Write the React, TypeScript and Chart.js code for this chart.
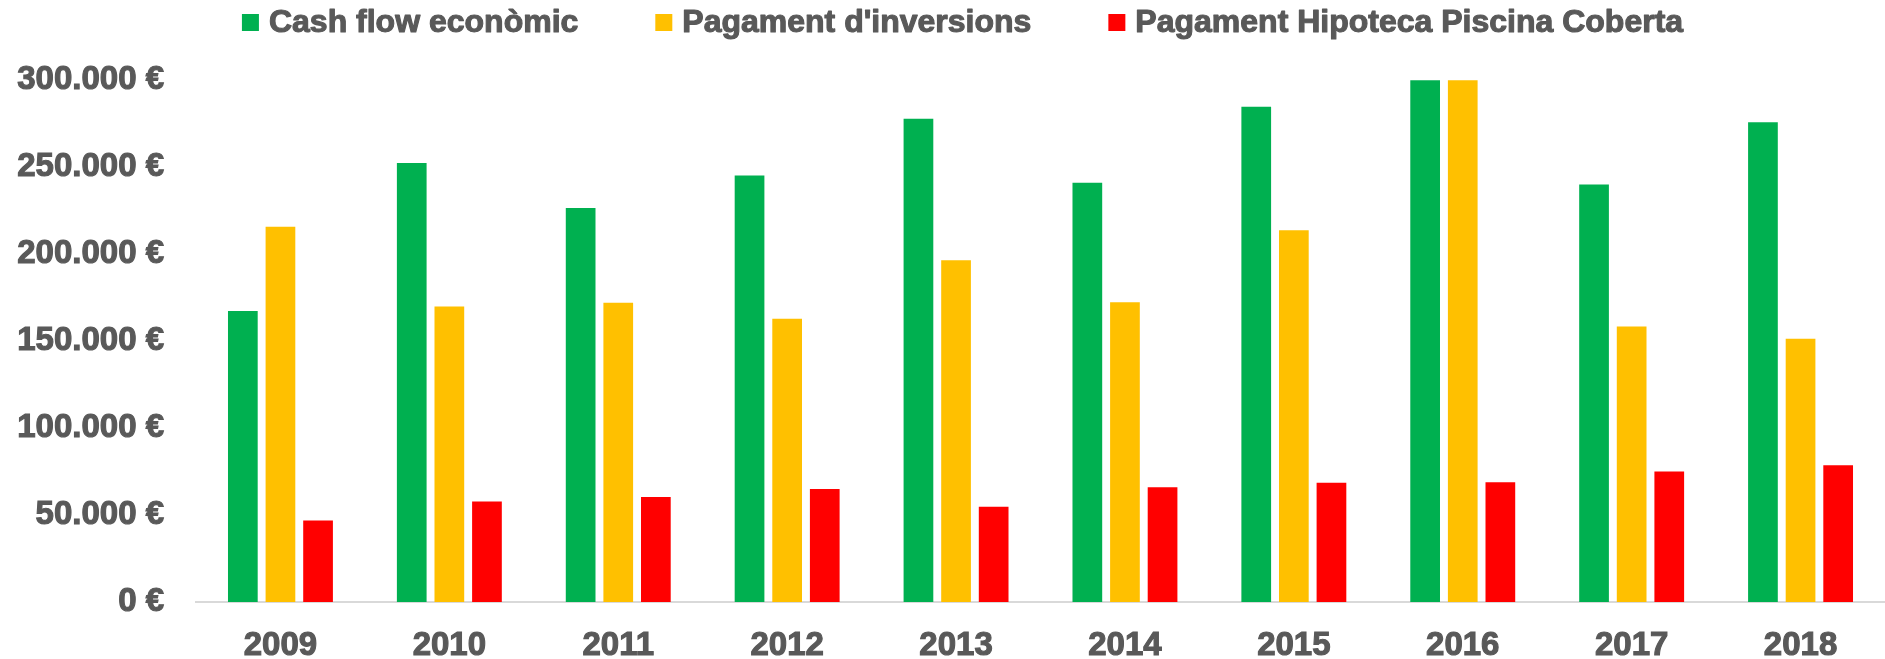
import React, { useEffect, useRef } from "react";
import { Chart, registerables } from "chart.js";

Chart.register(...registerables);

// ---- Data ----
const years = ["2009", "2010", "2011", "2012", "2013", "2014", "2015", "2016", "2017", "2018"];
const cashFlow = [167300, 252300, 226500, 245100, 277700, 241000, 284600, 299800, 240000, 275700];
const inversions = [215600, 169800, 172000, 162800, 196400, 172200, 213600, 299800, 158300, 151300];
const hipoteca = [46900, 57800, 60400, 64900, 54700, 65900, 68600, 68800, 75000, 78600];
const seriesLabels = ["Cash flow econòmic", "Pagament d'inversions", "Pagament Hipoteca Piscina Coberta"];
const seriesColors = ["#00B050", "#FFC000", "#FF0000"];
const yMax = 300000;
const yStep = 50000;

const TEXT_COLOR = "#595959";
const FONT_FAMILY = '"Liberation Sans", Arial, Helvetica, sans-serif';

function formatEuro(v: number): string {
  const s = Math.round(v).toString().replace(/\B(?=(\d{3})+(?!\d))/g, ".");
  return s + " €";
}

const topLegendPlugin = {
  id: "topLegend",
  afterDraw(chart: any) {
    const ctx = chart.ctx as CanvasRenderingContext2D;
    ctx.save();
    ctx.font = `bold 32px ${FONT_FAMILY}`;
    const box = 17;
    const gapText = 10;
    const gapItem = 77;
    const items = chart.data.datasets.map((ds: any) => ({
      text: ds.label as string,
      color: ds.backgroundColor as string,
      w: ctx.measureText(ds.label).width,
    }));
    const total =
      items.reduce((s: number, it: any) => s + box + gapText + it.w, 0) + gapItem * (items.length - 1);
    let x = chart.width / 2 + 20 - total / 2;
    const cy = 23;
    ctx.textBaseline = "middle";
    ctx.textAlign = "left";
    ctx.lineJoin = "round";
    for (const it of items) {
      ctx.fillStyle = it.color;
      ctx.fillRect(x, cy - box / 2 - 0.5, box, box);
      x += box + gapText;
      ctx.fillStyle = TEXT_COLOR;
      ctx.strokeStyle = TEXT_COLOR;
      ctx.lineWidth = 1.1;
      ctx.strokeText(it.text, x, cy);
      ctx.fillText(it.text, x, cy);
      x += it.w + gapItem;
    }
    ctx.restore();
  },
};

export default function App() {
  const canvasRef = useRef<HTMLCanvasElement | null>(null);

  useEffect(() => {
    document.body.style.margin = "0";
    const canvas = canvasRef.current;
    if (!canvas) return;
    const tickFont = { family: FONT_FAMILY, size: 33, weight: "bold" as const };
    const chart = new Chart(canvas, {
      type: "bar",
      data: {
        labels: years,
        datasets: [
          { label: seriesLabels[0], data: cashFlow, backgroundColor: seriesColors[0] },
          { label: seriesLabels[1], data: inversions, backgroundColor: seriesColors[1] },
          { label: seriesLabels[2], data: hipoteca, backgroundColor: seriesColors[2] },
        ],
      },
      options: {
        responsive: false,
        animation: false,
        devicePixelRatio: 1,
        layout: { padding: { top: 80, left: 0, right: 0, bottom: 0 } },
        datasets: {
          bar: {
            categoryPercentage: 0.668,
            barPercentage: 0.79,
            borderWidth: 0,
          },
        },
        plugins: {
          legend: { display: false },
          tooltip: { enabled: false },
          title: { display: false },
        },
        scales: {
          x: {
            grid: { display: false, drawTicks: false },
            border: { display: true, color: "#D9D9D9", width: 2 },
            ticks: {
              color: TEXT_COLOR,
              font: tickFont,
              textStrokeColor: TEXT_COLOR,
              textStrokeWidth: 1.1,
              padding: 24,
              maxRotation: 0,
              autoSkip: false,
            },
            afterFit(scale: any) {
              scale.height = 57;
            },
          },
          y: {
            min: 0,
            max: yMax,
            grid: { display: false, drawTicks: false },
            border: { display: false },
            ticks: {
              stepSize: yStep,
              color: TEXT_COLOR,
              font: tickFont,
              textStrokeColor: TEXT_COLOR,
              textStrokeWidth: 1.1,
              padding: 32,
              callback: (v: any) => formatEuro(Number(v)),
            },
            afterFit(scale: any) {
              scale.width = 196;
            },
          },
        },
      },
      plugins: [topLegendPlugin],
    });
    return () => chart.destroy();
  }, []);

  return (
    <div style={{ width: 1885, height: 659 }}>
      <canvas ref={canvasRef} width={1885} height={659} style={{ display: "block", width: 1885, height: 659 }} />
    </div>
  );
}
